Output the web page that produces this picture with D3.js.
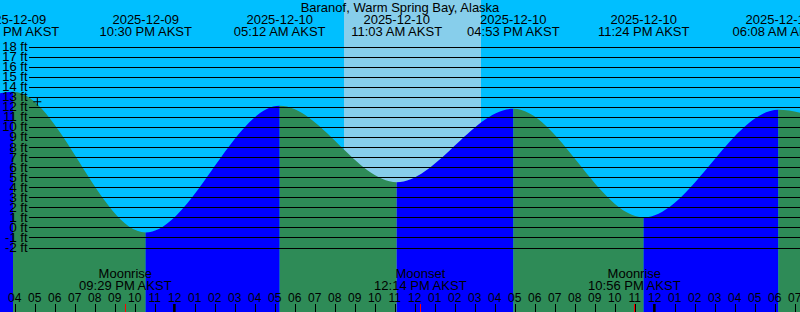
<!DOCTYPE html>
<html>
<head>
<meta charset="utf-8">
<script src="https://cdn.jsdelivr.net/npm/d3@7"></script>
<style>
  html, body { margin: 0; padding: 0; background: #00bfff; }
  svg { display: block; }
  text { font-family: "Liberation Sans", Arial, sans-serif; fill: #000; }
</style>
</head>
<body>
<div id="chart-area"></div>
<script>
// Tide extremes (local AKST clock). First and last are just off screen.
const tideTimes = ['2025-12-09T09:40', '2025-12-09T15:52', '2025-12-09T22:30', '2025-12-10T05:12',
  '2025-12-10T11:03', '2025-12-10T16:53', '2025-12-10T23:24', '2025-12-11T06:08', '2025-12-11T12:20'];
const tideLevels = [4.2, 13.5, -0.5, 12.1, 4.5, 11.8, 1.0, 11.7, 4.8];

// Level grid lines (ft)
const levelTicks = [-2, -1, 0, 1, 2, 3, 4, 5, 6, 7, 8, 9, 10, 11, 12, 13, 14, 15, 16, 17, 18];

// Sun and moon
const sunTimes = ['2025-12-10T08:25', '2025-12-10T15:16'];
const moonNames = ['Moonrise', 'Moonset', 'Moonrise'];
const moonTimes = ['2025-12-09T21:29', '2025-12-10T12:14', '2025-12-10T22:56'];

// "now" marker
const markTime = '2025-12-09T17:05';
const markLevel = 12.5;

const title = 'Baranof, Warm Spring Bay, Alaska';

const width = 800;
const height = 312;
const parse = d3.utcParse('%Y-%m-%dT%H:%M');
const fmtDate = d3.utcFormat('%Y-%m-%d');
const fmtTime = d3.utcFormat('%I:%M %p AKST');
const fmtHour = d3.utcFormat('%I');

const x = d3.scaleUtc()
  .domain([parse('2025-12-09T15:13'), parse('2025-12-11T07:13')])
  .range([0, width]);
const y = d3.scaleLinear().domain([-2, 18]).range([247.5, 46.5]);

const tides = tideTimes.map((t, i) => ({ t: parse(t), level: tideLevels[i] }));

const svg = d3.select('#chart-area')
  .append('svg')
  .attr('width', width)
  .attr('height', height);

// Sky: night then daylight band
svg.append('rect').attr('width', width).attr('height', height).attr('fill', '#00bfff');
svg.append('rect')
  .attr('x', x(parse(sunTimes[0])))
  .attr('width', x(parse(sunTimes[1])) - x(parse(sunTimes[0])))
  .attr('height', height)
  .attr('fill', '#87ceeb');

// Tide fill, one clipped copy per rising / falling stretch
const area = d3.area()
  .curve(d3.curveMonotoneX)
  .x(d => x(d.t))
  .y0(height)
  .y1(d => y(d.level));

const defs = svg.append('defs');
tides.slice(0, -1).forEach((d, i) => {
  const next = tides[i + 1];
  defs.append('clipPath')
    .attr('id', `seg${i}`)
    .append('rect')
    .attr('x', x(d.t))
    .attr('width', x(next.t) - x(d.t))
    .attr('height', height);
  svg.append('path')
    .datum(tides)
    .attr('d', area)
    .attr('clip-path', `url(#seg${i})`)
    .attr('fill', next.level > d.level ? '#0000ff' : '#2e8b57');
});

// Grid lines
svg.append('g')
  .selectAll('line')
  .data(levelTicks)
  .enter()
  .append('line')
  .attr('x1', 29)
  .attr('x2', width)
  .attr('y1', d => Math.round(y(d)) + 0.5)
  .attr('y2', d => Math.round(y(d)) + 0.5)
  .attr('stroke', '#000')
  .attr('stroke-width', 1);

svg.append('g')
  .selectAll('text')
  .data(levelTicks)
  .enter()
  .append('text')
  .attr('x', 27.5)
  .attr('y', d => y(d) + 4.5)
  .attr('text-anchor', 'end')
  .attr('font-size', '13px')
  .text(d => `${d} ft`);

// Title and tide event labels
svg.append('text')
  .attr('x', width / 2)
  .attr('y', 11.5)
  .attr('text-anchor', 'middle')
  .attr('font-size', '13px')
  .text(title);

const events = svg.append('g')
  .selectAll('g')
  .data(tides.slice(1, -1))
  .enter()
  .append('g')
  .attr('transform', d => `translate(${x(d.t)},0)`);
events.append('text')
  .attr('y', 23.5)
  .attr('text-anchor', 'middle')
  .attr('font-size', '13px')
  .text(d => fmtDate(d.t));
events.append('text')
  .attr('y', 35.5)
  .attr('text-anchor', 'middle')
  .attr('font-size', '13px')
  .text(d => fmtTime(d.t));

// Moon labels
const moon = svg.append('g')
  .selectAll('g')
  .data(moonTimes.map((t, i) => ({ name: moonNames[i], t: parse(t) })))
  .enter()
  .append('g')
  .attr('transform', d => `translate(${x(d.t)},0)`);
moon.append('text')
  .attr('y', 278)
  .attr('text-anchor', 'middle')
  .attr('font-size', '13px')
  .text(d => d.name);
moon.append('text')
  .attr('y', 290)
  .attr('text-anchor', 'middle')
  .attr('font-size', '13px')
  .text(d => fmtTime(d.t));

// Hour ticks and labels
const hours = x.ticks(d3.utcHour.every(1));
svg.append('g')
  .selectAll('text')
  .data(hours)
  .enter()
  .append('text')
  .attr('x', d => x(d) - 1)
  .attr('y', 302)
  .attr('text-anchor', 'middle')
  .attr('font-size', '12px')
  .style('font-family', '"Liberation Sans Narrow", "Liberation Sans", sans-serif')
  .text(d => fmtHour(d));

svg.append('g')
  .selectAll('line')
  .data(hours)
  .enter()
  .append('line')
  .attr('x1', d => (d.getUTCHours() === 0 ? x(d) - 1.3 : Math.floor(x(d)) + 0.5))
  .attr('x2', d => (d.getUTCHours() === 0 ? x(d) - 1.3 : Math.floor(x(d)) + 0.5))
  .attr('y1', 304)
  .attr('y2', height)
  .attr('stroke', '#000')
  .attr('stroke-width', d => (d.getUTCHours() === 0 ? 2.6 : 1));

svg.append('g')
  .selectAll('line')
  .data(moonTimes.map(parse))
  .enter()
  .append('line')
  .attr('x1', d => Math.floor(x(d)) + 0.5)
  .attr('x2', d => Math.floor(x(d)) + 0.5)
  .attr('y1', 304)
  .attr('y2', height)
  .attr('stroke', '#ff0000')
  .attr('stroke-width', 1);

// "+" marker
const mx = x(parse(markTime));
const my = y(markLevel);
svg.append('path')
  .attr('d', `M${mx - 4},${my}H${mx + 4}M${mx},${my - 4}V${my + 4}`)
  .attr('stroke', '#000')
  .attr('stroke-width', 1)
  .attr('fill', 'none');
</script>
</body>
</html>
